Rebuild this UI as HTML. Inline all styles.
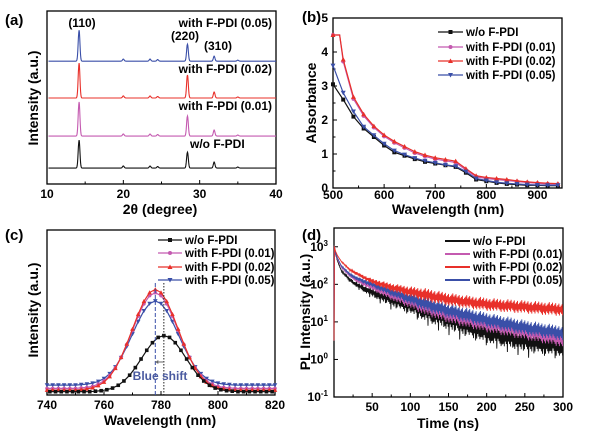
<!DOCTYPE html>
<html><head><meta charset="utf-8">
<style>
body{margin:0;background:#fff;}
svg{display:block;font-family:"Liberation Sans",Arial,sans-serif;font-weight:bold;}
</style></head>
<body>
<svg id="fig" width="600" height="443" viewBox="0 0 600 443" xmlns="http://www.w3.org/2000/svg">
<g id="pa"></g>
<g id="pb"></g>
<g id="pc"></g>
<g id="pd"></g>
</svg>
<script>
// ---------- Panel (a) data ----------
const xrdPeakPos = [14.2, 20.0, 23.5, 24.5, 28.4, 31.9, 35.0];
const xrdSeries = ["w/o F-PDI","with F-PDI (0.01)","with F-PDI (0.02)","with F-PDI (0.05)"];
const xrdBase = [9.2, 27.7, 49.7, 71.0];
const xrdHeightsBlack = [16.2, 1.2, 1.2, 0.9, 9.2, 3.5, 0.6];
const xrdHeightsPink = [19.7, 1.2, 1.2, 0.9, 11.6, 3.5, 0.6];
const xrdHeightsRed = [20.2, 1.2, 1.2, 0.9, 13.3, 3.5, 0.6];
const xrdHeightsBlue = [17.9, 1.2, 1.2, 0.9, 9.8, 2.9, 0.6];
const xrdTicks = [10, 20, 30, 40];
// ---------- Panel (b) data ----------
const absLabels = ["w/o F-PDI","with F-PDI (0.01)","with F-PDI (0.02)","with F-PDI (0.05)"];
const absWl = [500,520,540,560,580,600,620,640,660,680,700,720,740,760,780,800,820,840,860,880,900,920,940];
const absBlack = [3.05,2.6,2.1,1.75,1.5,1.25,1.05,0.95,0.85,0.77,0.72,0.67,0.62,0.45,0.25,0.2,0.15,0.12,0.1,0.08,0.08,0.07,0.07];
const absPink = [4.5,3.72,2.62,2.12,1.78,1.52,1.33,1.18,1.03,0.93,0.85,0.8,0.75,0.53,0.33,0.28,0.25,0.22,0.19,0.16,0.14,0.12,0.11];
const absRed = [4.5,3.78,2.68,2.17,1.82,1.56,1.37,1.22,1.07,0.97,0.89,0.84,0.79,0.57,0.36,0.31,0.28,0.25,0.21,0.18,0.16,0.14,0.13];
const absBlue = [3.6,2.8,2.25,1.8,1.55,1.3,1.1,0.98,0.88,0.8,0.74,0.68,0.64,0.48,0.28,0.22,0.17,0.14,0.12,0.1,0.09,0.08,0.08];
const absXTicks = [500,600,700,800,900];
const absYTicks = [0,1,2,3,4,5];
// ---------- Panel (c) data ----------
const plLabels = ["w/o F-PDI","with F-PDI (0.01)","with F-PDI (0.02)","with F-PDI (0.05)"];
const plWlBlack = [741,743,745,747,749,751,753,755,757,759,761,763,765,767,769,771,773,775,777,779,781,783,785,787,789,791,793,795,797,799,801,803,805,807,809,811,813,815,817,819];
const plBlack = [0.02,0.02,0.02,0.02,0.02,0.02,0.02,0.02,0.023,0.026,0.032,0.042,0.059,0.085,0.12,0.166,0.218,0.271,0.317,0.349,0.36,0.349,0.317,0.271,0.218,0.166,0.12,0.085,0.059,0.042,0.032,0.026,0.023,0.02,0.02,0.02,0.02,0.02,0.02,0.02];
const plWl = [740,742,744,746,748,750,752,754,756,758,760,762,764,766,768,770,772,774,776,778,780,782,784,786,788,790,792,794,796,798,800,802,804,806,808,810,812,814,816,818,820];
const plRed = [0.03,0.03,0.03,0.03,0.03,0.03,0.033,0.037,0.044,0.057,0.078,0.112,0.162,0.228,0.31,0.40,0.49,0.568,0.621,0.64,0.621,0.568,0.49,0.40,0.31,0.228,0.162,0.112,0.078,0.057,0.044,0.037,0.033,0.03,0.03,0.03,0.03,0.03,0.03,0.03,0.03];
const plPink = [0.04,0.04,0.04,0.04,0.04,0.04,0.043,0.046,0.053,0.066,0.086,0.118,0.165,0.229,0.306,0.392,0.478,0.552,0.602,0.62,0.602,0.552,0.478,0.392,0.306,0.229,0.165,0.118,0.086,0.066,0.053,0.046,0.043,0.04,0.04,0.04,0.04,0.04,0.04,0.04,0.04];
const plBlue = [0.06,0.06,0.06,0.06,0.06,0.06,0.063,0.066,0.072,0.082,0.1,0.129,0.17,0.226,0.294,0.37,0.445,0.51,0.554,0.57,0.554,0.51,0.445,0.37,0.294,0.226,0.17,0.129,0.1,0.082,0.072,0.066,0.063,0.06,0.06,0.06,0.06,0.06,0.06,0.06,0.06];
const plTicks = [740,760,780,800,820];
// ---------- Panel (d) data ----------
const trLabels = ["w/o F-PDI","with F-PDI (0.01)","with F-PDI (0.02)","with F-PDI (0.05)"];
const trTime = [0.5,2,5,10,20,30,50,75,100,125,150,175,200,225,250,275,300];
const trLogBlack = [3.0,2.8,2.6,2.35,2.13,1.98,1.78,1.6,1.45,1.25,1.07,0.9,0.72,0.6,0.5,0.42,0.35];
const trLogPink = [3.0,2.82,2.65,2.45,2.25,2.1,1.93,1.72,1.55,1.37,1.2,1.07,0.95,0.85,0.75,0.65,0.55];
const trLogRed = [3.0,2.88,2.75,2.6,2.4,2.28,2.08,1.92,1.8,1.7,1.6,1.53,1.47,1.43,1.4,1.36,1.33];
const trLogBlue = [3.0,2.84,2.68,2.48,2.28,2.15,2.0,1.8,1.62,1.45,1.3,1.17,1.05,0.95,0.85,0.77,0.7];
const trXTicks = [50,100,150,200,250,300];
const trYTicks = [-1,0,1,2,3];

const NS="http://www.w3.org/2000/svg";
function mk(parent,tag,attrs){const e=document.createElementNS(NS,tag);for(const k in attrs)e.setAttribute(k,attrs[k]);parent.appendChild(e);return e;}
function txt(parent,x,y,s,size,anchor,fill){const t=mk(parent,'text',{x:x,y:y,'font-size':size,'text-anchor':anchor||'middle',fill:fill||'#000'});t.textContent=s;return t;}
function lin(d0,d1,r0,r1){return v=>r0+(v-d0)*(r1-r0)/(d1-d0);}
function box(g,L,T,R,B){const r=mk(g,'rect',{x:L,y:T,width:R-L,height:B-T,fill:'none',stroke:'#000','stroke-width':1.3});}
function tickX(g,x,B,len){mk(g,'line',{x1:x,y1:B,x2:x,y2:B-len,stroke:'#000','stroke-width':1});}
function tickY(g,y,L,len){mk(g,'line',{x1:L,y1:y,x2:L+len,y2:y,stroke:'#000','stroke-width':1});}
const C=['#111','#c45ab0','#e8302a','#3a4fa8'];

// ===== Panel A =====
(function(){
const g=document.getElementById('pa');
const L=47,R=276,T=11,B=184;
const X=lin(10,40,L,R), Y=lin(0,100,B,T);
box(g,L,T,R,B);
xrdTicks.forEach(v=>{tickX(g,X(v),B,4);const t=txt(g,X(v),198,String(v),12);});
[15,25,35].forEach(v=>tickX(g,X(v),B,2.5));
const hs=[xrdHeightsBlack,xrdHeightsPink,xrdHeightsRed,xrdHeightsBlue];
hs.forEach((h,si)=>{
 let d='';
 for(let x=10.2;x<=40;x+=0.04){let v=xrdBase[si];xrdPeakPos.forEach((p,i)=>{v+=h[i]*Math.exp(-Math.pow(x-p,2)/(2*0.012));});
  d+=(d?'L':'M')+X(x).toFixed(1)+','+Y(v).toFixed(1);}
 const p=mk(g,'path',{d:d,fill:'none',stroke:C[si],'stroke-width':1.1});
 
 
});
const lab=[[190,148,'start'],[272,110,'end'],[272,73,'end'],[272,27,'end']];
xrdSeries.forEach((s,i)=>{const t=txt(g,lab[i][0],lab[i][1],s,12,lab[i][2]);});
[['(110)',82,27],['(220)',185,40],['(310)',218,50]].forEach(a=>{const t=txt(g,a[1],a[2],a[0],12);});
let t=txt(g,160,214,'2θ (degree)',14);
t=txt(g,0,0,'Intensity (a.u.)',14);t.setAttribute('transform','translate(38,98) rotate(-90)');
t=txt(g,5,25,'(a)',15,'start');
})();

// marker drawing
function marker(g,type,x,y,col,s){
 if(type==0) mk(g,'rect',{x:x-s,y:y-s,width:2*s,height:2*s,fill:col});
 else if(type==1) mk(g,'circle',{cx:x,cy:y,r:s,fill:col});
 else if(type==2) mk(g,'polygon',{points:`${x},${y-s-0.5} ${x-s-0.5},${y+s} ${x+s+0.5},${y+s}`,fill:col});
 else mk(g,'polygon',{points:`${x},${y+s+0.5} ${x-s-0.5},${y-s} ${x+s+0.5},${y-s}`,fill:col});
}
function legend(g,x1,x2,ys,labels,withMarker){
 labels.forEach((s,i)=>{const lg=mk(g,'g',{});
  mk(lg,'line',{x1:x1,y1:ys[i],x2:x2,y2:ys[i],stroke:C[i],'stroke-width':withMarker?1.3:2});
  if(withMarker)marker(lg,i,(x1+x2)/2,ys[i],C[i],2);
  txt(lg,x2+3,ys[i]+4,s,11.5,'start');});
}

// ===== Panel B =====
(function(){
const g=document.getElementById('pb');
const L=333,R=562,T=18,B=188;
const X=lin(500,948,L,R), Y=lin(0,5,B,T);
box(g,L,T,R,B);
absXTicks.forEach(v=>{tickX(g,X(v),B,4);const t=txt(g,X(v),199,String(v),12);});
[550,650,750,850].forEach(v=>tickX(g,X(v),B,2.5));
absYTicks.forEach(v=>{tickY(g,Y(v),L,4);const t=txt(g,328,Y(v)+4,String(v),12,'end');});
[0.5,1.5,2.5,3.5,4.5].forEach(v=>tickY(g,Y(v),L,2.5));
const ser=[absBlack,absPink,absRed,absBlue];
ser.forEach((arr,si)=>{
 const sg=mk(g,'g',{});
 let pts=arr.map((v,i)=>[X(absWl[i]),Y(v)]);
 if(si==1||si==2){pts.splice(1,0,[X(513),Y(arr[0])]);}
 mk(sg,'polyline',{points:pts.map(p=>p.join(',')).join(' '),fill:'none',stroke:C[si],'stroke-width':1.2});
 arr.forEach((v,i)=>marker(sg,si,X(absWl[i]),Y(v),C[si],2));
});
legend(g,438,463,[32,47,61,75],absLabels,true);
let t=txt(g,448,214,'Wavelength (nm)',14);
t=txt(g,0,0,'Absorbance',14);t.setAttribute('transform','translate(316,103) rotate(-90)');
t=txt(g,302,22,'(b)',15,'start');
})();

// ===== Panel C =====
(function(){
const g=document.getElementById('pc');
const L=47,R=275,T=230,B=395;
const X=lin(740,820,L,R), Y=lin(0,1,B,T);
box(g,L,T,R,B);
plTicks.forEach(v=>{tickX(g,X(v),B,4);const t=txt(g,X(v),409,String(v),12);});
[750,770,790,810].forEach(v=>tickX(g,X(v),B,2.5));
const ser=[[plWlBlack,plBlack],[plWl,plPink],[plWl,plRed],[plWl,plBlue]];
[3,1,2,0].forEach(si=>{const [xs,ys]=ser[si];
 const sg=mk(g,'g',{});
 mk(sg,'polyline',{points:ys.map((v,i)=>X(xs[i])+','+Y(v)).join(' '),fill:'none',stroke:C[si],'stroke-width':1.2});
 ys.forEach((v,i)=>{if(i%1==0)marker(sg,si,X(xs[i]),Y(v),C[si],1.8);});
});
mk(g,'line',{x1:X(778),y1:283,x2:X(778),y2:B,stroke:'#3a4fa8','stroke-width':1,'stroke-dasharray':'4,2'});
mk(g,'line',{x1:X(781),y1:283,x2:X(781),y2:B,stroke:'#222','stroke-width':1,'stroke-dasharray':'1.5,1.5'});
mk(g,'line',{x1:X(781),y1:362,x2:X(778),y2:362,stroke:'#666','stroke-width':1});
mk(g,'polygon',{points:`${X(778)},362 ${X(778)+3},360 ${X(778)+3},364`,fill:'#666'});
let t=txt(g,160,380,'Blue shift',12,'middle','#4a5aa0');
legend(g,158,182,[240,253,267,280],plLabels,true);
t=txt(g,160,425,'Wavelength (nm)',14);
t=txt(g,0,0,'Intensity (a.u.)',14);t.setAttribute('transform','translate(38,310) rotate(-90)');
t=txt(g,5,240,'(c)',15,'start');
})();

// ===== Panel D =====
(function(){
const g=document.getElementById('pd');
const L=334,R=563,T=228,B=397;
const X=lin(0,300,L,R), Y=lin(-1,3.5,B,T);
box(g,L,T,R,B);
trXTicks.forEach(v=>{tickX(g,X(v),B,4);const t=txt(g,X(v),411,String(v),12);});
[25,75,125,175,225,275].forEach(v=>tickX(g,X(v),B,2.5));
trYTicks.forEach(v=>{tickY(g,Y(v),L,4);
 const t=mk(g,'text',{x:328,y:Y(v)+4,'font-size':12,'text-anchor':'end'});
 
 t.textContent='10';const s=mk(t,'tspan',{'font-size':8,dy:-5});s.textContent=String(v);});
const ser=[trLogBlack,trLogPink,trLogBlue,trLogRed];const cols=[C[0],C[1],C[3],C[2]];const amp=[0.55,0.45,0.4,0.35];
ser.forEach((arr,k)=>{
 let d='M'+X(0)+','+Y(0.5)+'L'+X(trTime[0])+','+Y(arr[0]);let n=0;
 for(let i=0;i<arr.length-1;i++){const t0=trTime[i],t1=trTime[i+1];
  for(let t=t0;t<t1;t+=0.7){const f=(t-t0)/(t1-t0);const v=arr[i]+(arr[i+1]-arr[i])*f;
   const a=amp[k]*Math.min(1,t/120)*(0.35+0.65*((n*7919)%13)/12);const o=(n%2?1:-1)*a*(k==0&&n%5==0?1.6:1);
   d+='L'+X(t).toFixed(1)+','+Math.min(B,Y(v+o*0.5)).toFixed(1);n++;}}
 const p=mk(g,'path',{d:d,fill:'none',stroke:cols[k],'stroke-width':0.9});
 
 
});
legend(g,445,470,[241,254,267,280],trLabels,false);
let t=txt(g,448,428,'Time (ns)',14);
t=txt(g,0,0,'PL Intensity (a.u.)',14);t.setAttribute('transform','translate(310,312) rotate(-90)');
t=txt(g,302,240,'(d)',15,'start');
})();
</script>
</body></html>
